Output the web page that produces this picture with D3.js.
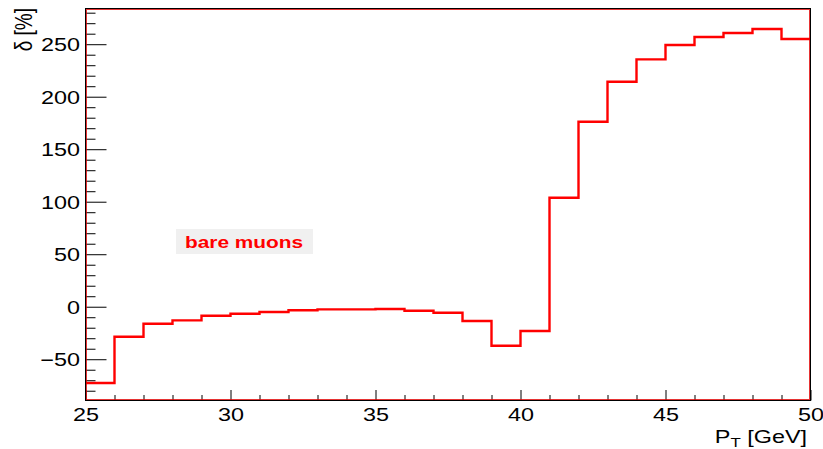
<!DOCTYPE html>
<html>
<head>
<meta charset="utf-8" />
<title>bare muons</title>
<style>
  body { margin: 0; background: #fff; }
  text { font-family: "Liberation Sans", Arial, sans-serif; fill: #000; }
</style>
</head>
<body>
<div id="chart"></div>
<script src="https://cdn.jsdelivr.net/npm/d3@7"></script>
<script>
// bin lower edges (GeV) and contents (%)
var binEdges = [25, 26, 27, 28, 29, 30, 31, 32, 33, 34, 35, 36, 37, 38, 39, 40, 41, 42, 43, 44, 45, 46, 47, 48, 49, 50];
var delta = [-72.7, -28.6, -16.2, -13.0, -8.6, -6.7, -5.0, -3.4, -2.5, -2.5, -2.2, -3.8, -5.7, -13.6, -37.1, -23.1,
             103.8, 176.2, 214.3, 235.6, 249.2, 256.9, 260.7, 264.5, 255.0];
var xMajor = [25, 30, 35, 40, 45, 50];
var yMajor = [-50, 0, 50, 100, 150, 200, 250];
var xTitle = "P";
var xTitleSub = "T";
var xTitleRest = " [GeV]";
var yTitle = "δ [%]";
var label = "bare muons";

var width = 823, height = 449;
var sx = 1.3; // text in the reference is wider than tall

var svg = d3.select("#chart").append("svg")
    .attr("width", width)
    .attr("height", height);

var x = d3.scaleLinear().domain([25, 50]).range([85.5, 810.5]);
var y = d3.scaleLinear().domain([-89.3, 284]).range([400.5, 8.5]);

var xMinor = d3.range(25, 50.001, 1).filter(function (d) { return xMajor.indexOf(d) < 0; });
var yMinor = d3.range(-80, 284, 10).filter(function (d) { return yMajor.indexOf(d) < 0; });

// histogram line
var pts = delta.map(function (d, i) { return [binEdges[i], d]; });
pts.push([50, delta[delta.length - 1]]);
var line = d3.line()
    .x(function (d) { return x(d[0]); })
    .y(function (d) { return y(d[1]); })
    .curve(d3.curveStepAfter);

svg.append("path")
    .attr("d", line(pts))
    .attr("fill", "none")
    .attr("stroke", "#ff0000")
    .attr("stroke-width", 2.4);

// label box
var lb = svg.append("g");
lb.append("rect")
    .attr("x", 176).attr("y", 229)
    .attr("width", 137).attr("height", 25)
    .attr("fill", "#f0f0f0");
lb.append("text")
    .attr("x", 185).attr("y", 248)
    .attr("font-size", 16)
    .attr("font-weight", "bold")
    .style("fill", "#ff0000")
    .attr("textLength", 118)
    .attr("lengthAdjust", "spacingAndGlyphs")
    .text(label);

// axes
var yAxisMajor = d3.axisLeft(y).tickValues(yMajor).tickSizeInner(-21).tickSizeOuter(0).tickPadding(0);
var yAxisMinor = d3.axisLeft(y).tickValues(yMinor).tickSizeInner(-10).tickSizeOuter(0).tickFormat("");
var xAxisMajor = d3.axisBottom(x).tickValues(xMajor).tickSizeInner(-10.5).tickSizeOuter(0).tickPadding(0);
var xAxisMinor = d3.axisBottom(x).tickValues(xMinor).tickSizeInner(-5.5).tickSizeOuter(0).tickFormat("");

function style(g) {
  g.select(".domain").remove();
  g.selectAll("line").attr("stroke", "#000");
}

var gy = svg.append("g").attr("transform", "translate(85.5,0)").call(yAxisMajor).call(style);
svg.append("g").attr("transform", "translate(85.5,0)").call(yAxisMinor).call(style);
gy.selectAll("text")
    .attr("font-size", 18)
    .attr("font-family", null)
    .attr("x", 0)
    .attr("dy", "0.35em")
    .attr("transform", "translate(-5.5,0) scale(" + sx + ",1)");

var gx = svg.append("g").attr("transform", "translate(0,400.5)").call(xAxisMajor).call(style);
svg.append("g").attr("transform", "translate(0,400.5)").call(xAxisMinor).call(style);
gx.selectAll("text")
    .attr("font-size", 18)
    .attr("font-family", null)
    .attr("y", 0)
    .attr("dy", "0")
    .attr("transform", "translate(0,20.5) scale(" + sx + ",1)");

// frame
svg.append("rect")
    .attr("x", 86.5).attr("y", 9.5)
    .attr("width", 723).attr("height", 390)
    .attr("fill", "none")
    .attr("stroke", "#e00000")
    .attr("stroke-opacity", 0.8);
svg.append("rect")
    .attr("x", 85.5).attr("y", 8.5)
    .attr("width", 725).attr("height", 392)
    .attr("fill", "none")
    .attr("stroke", "#000");

// titles
var xt = svg.append("g").attr("transform", "translate(807,443) scale(" + sx + ",1)")
  .append("text")
    .attr("text-anchor", "end")
    .attr("font-size", 18);
xt.append("tspan").text(xTitle);
xt.append("tspan").attr("font-size", 13).attr("dy", 4).text(xTitleSub);
xt.append("tspan").attr("dy", -4).text(xTitleRest);

svg.append("g").attr("transform", "translate(32,8) scale(" + sx + ",1) rotate(-90)")
  .append("text")
    .attr("text-anchor", "end")
    .attr("font-size", 19)
    .text(yTitle);
</script>
</body>
</html>
